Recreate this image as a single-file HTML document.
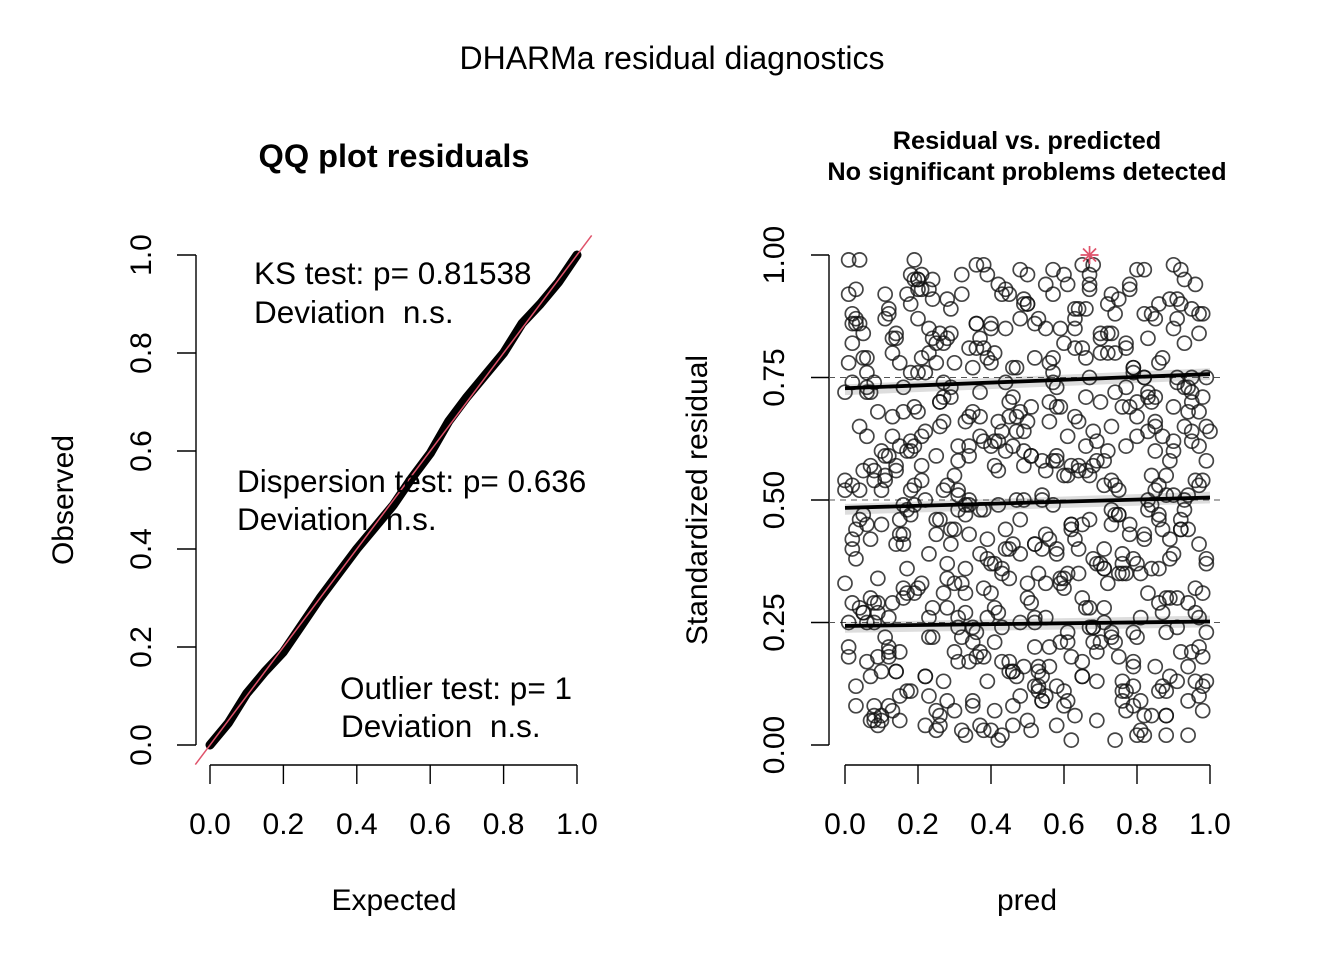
<!DOCTYPE html>
<html><head><meta charset="utf-8"><style>
html,body{margin:0;padding:0;background:#fff}
svg{display:block;font-family:"Liberation Sans",Arial,sans-serif}
text{white-space:pre}
</style></head><body>
<svg id="chart" width="1344" height="960" viewBox="0 0 1344 960" xmlns="http://www.w3.org/2000/svg">
<rect width="1344" height="960" fill="#fff"/>
<text x="672" y="69" font-size="32" text-anchor="middle">DHARMa residual diagnostics</text>
<text x="394" y="167" font-size="32.5" font-weight="bold" text-anchor="middle">QQ plot residuals</text>
<text x="1027" y="149" font-size="25.3" font-weight="bold" text-anchor="middle">Residual vs. predicted</text>
<text x="1027" y="180" font-size="25.3" font-weight="bold" text-anchor="middle">No significant problems detected</text>
<g id="qq"></g>
<g id="rp"></g>
</svg>
<script>
const NS="http://www.w3.org/2000/svg";
const ticks=[0,0.2,0.4,0.6,0.8,1.0];
const tickLabels=["0.0","0.2","0.4","0.6","0.8","1.0"];
const rTicks=[0,0.25,0.5,0.75,1.0];
const rTickLabels=["0.00","0.25","0.50","0.75","1.00"];
const qqExpected=[0,0.05,0.1,0.15,0.2,0.25,0.3,0.35,0.4,0.45,0.5,0.55,0.6,0.65,0.7,0.75,0.8,0.85,0.9,0.95,1];
const qqObserved=[0,0.045,0.105,0.15,0.19,0.245,0.3,0.35,0.4,0.445,0.49,0.545,0.595,0.66,0.71,0.755,0.8,0.86,0.9,0.945,1];
const quantLevels=[0.25,0.5,0.75];
const quantStart=[0.243,0.484,0.728];
const quantEnd=[0.252,0.505,0.757];
const outlierX=[0.67];
const outlierY=[1.0];
const predX=[
0.01,0.03,0.06,0.09,0.12,0.15,0.18,0.21,0.24,0.27,0.30,0.33,0.36,0.39,0.42,0.45,0.48,0.51,0.54,0.57,
0.60,0.63,0.66,0.69,0.72,0.75,0.78,0.81,0.84,0.87,0.90,0.93,0.96,0.99,0.02,0.05,0.08,0.11,0.14,0.17,
0.20,0.23,0.26,0.29,0.32,0.35,0.38,0.41,0.44,0.47,0.50,0.53,0.56,0.59,0.62,0.65,0.68,0.71,0.74,0.77,
0.80,0.83,0.86,0.89,0.92,0.95,0.98,0.00,0.04,0.07,0.10,0.13,0.16,0.19,0.22,0.25,0.28,0.31,0.34,0.37,
0.40,0.43,0.46,0.49,0.52,0.55,0.58,0.61,0.64,0.67,0.70,0.73,0.76,0.79,0.82,0.85,0.88,0.91,0.94,0.97,
0.02,0.06,0.09,0.13,0.17,0.20,0.24,0.28,0.31,0.35,0.39,0.43,0.46,0.50,0.54,0.58,0.61,0.65,0.69,0.73,
0.76,0.80,0.84,0.87,0.91,0.95,0.99,0.01,0.05,0.08,0.12,0.16,0.19,0.23,0.27,0.30,0.34,0.38,0.42,0.45,
0.49,0.53,0.57,0.60,0.64,0.68,0.72,0.75,0.79,0.83,0.86,0.90,0.94,0.98,0.03,0.07,0.11,0.14,0.18,0.22,
0.26,0.29,0.33,0.37,0.41,0.44,0.48,0.52,0.56,0.59,0.63,0.67,0.71,0.74,0.78,0.82,0.85,0.89,0.93,0.97,
0.00,0.04,0.08,0.12,0.15,0.19,0.23,0.27,0.31,0.35,0.38,0.42,0.46,0.50,0.54,0.57,0.61,0.65,0.69,0.73,
0.77,0.80,0.84,0.88,0.92,0.96,1.00,0.02,0.06,0.10,0.14,0.18,0.21,0.25,0.29,0.33,0.37,0.40,0.44,0.48,
0.52,0.56,0.60,0.63,0.67,0.71,0.75,0.79,0.82,0.86,0.90,0.94,0.98,0.01,0.04,0.07,0.10,0.13,0.16,0.19,
0.22,0.25,0.28,0.31,0.34,0.37,0.40,0.43,0.46,0.49,0.52,0.55,0.58,0.61,0.64,0.67,0.70,0.73,0.76,0.79,
0.82,0.85,0.88,0.91,0.94,0.97,0.03,0.08,0.13,0.18,0.23,0.28,0.33,0.38,0.43,0.48,0.53,0.58,0.63,0.68,
0.73,0.78,0.83,0.88,0.93,0.98,0.05,0.10,0.15,0.20,0.25,0.30,0.35,0.40,0.45,0.50,0.55,0.60,0.65,0.70,
0.75,0.80,0.85,0.90,0.95,0.99,0.02,0.07,0.12,0.17,0.22,0.27,0.32,0.37,0.42,0.47,0.52,0.57,0.62,0.66,
0.72,0.77,0.81,0.87,0.92,0.97,0.01,0.06,0.11,0.16,0.21,0.26,0.31,0.36,0.41,0.46,0.51,0.56,0.61,0.67,
0.71,0.76,0.82,0.86,0.91,0.96,0.04,0.09,0.14,0.19,0.24,0.29,0.34,0.39,0.44,0.49,0.54,0.59,0.64,0.69,
0.74,0.79,0.84,0.89,0.94,0.99,0.03,0.12,0.21,0.32,0.41,0.53,0.62,0.74,0.83,0.95,0.08,0.18,0.27,0.36,
0.47,0.58,0.68,0.79,0.88,0.97,0.02,0.15,0.26,0.38,0.45,0.55,0.66,0.77,0.86,0.93,0.06,0.20,0.34,0.50
];
const resid=[
0.99,0.12,0.63,0.34,0.88,0.05,0.47,0.93,0.22,0.71,0.55,0.02,0.81,0.38,0.66,0.15,0.97,0.29,0.51,0.76,
0.08,0.42,0.89,0.19,0.60,0.35,0.94,0.03,0.70,0.27,0.85,0.48,0.13,0.58,0.40,0.79,0.25,0.92,0.57,0.31,
0.68,0.10,0.84,0.44,0.96,0.21,0.62,0.07,0.74,0.50,0.33,0.87,0.16,0.69,0.45,0.98,0.24,0.53,0.01,0.82,
0.37,0.64,0.11,0.91,0.46,0.72,0.18,0.54,0.86,0.30,0.06,0.67,0.41,0.95,0.14,0.59,0.83,0.26,0.49,0.04,
0.78,0.36,0.61,0.90,0.20,0.43,0.73,0.09,0.56,0.28,0.80,0.65,0.39,0.17,0.97,0.52,0.23,0.75,0.02,0.61,
0.74,0.45,0.18,0.83,0.60,0.32,0.91,0.09,0.52,0.77,0.26,0.64,0.41,0.96,0.14,0.58,0.35,0.81,0.05,0.48,
0.69,0.22,0.88,0.44,0.13,0.62,0.37,0.92,0.27,0.56,0.08,0.73,0.49,0.85,0.31,0.19,0.67,0.03,0.94,0.40,
0.57,0.11,0.79,0.34,0.66,0.24,0.90,0.47,0.16,0.71,0.53,0.98,0.29,0.07,0.86,0.42,0.59,0.15,0.76,0.50,
0.04,0.84,0.36,0.63,0.21,0.93,0.46,0.12,0.70,0.33,0.87,0.55,0.25,0.80,0.43,0.06,0.65,0.38,0.95,0.20,
0.72,0.28,0.54,0.89,0.10,0.61,0.39,0.82,0.17,0.68,0.48,0.01,0.77,0.30,0.58,0.92,0.23,0.45,0.13,0.84,
0.35,0.70,0.06,0.51,0.97,0.27,0.64,0.42,0.79,0.15,0.56,0.90,0.33,0.03,0.73,0.47,0.19,0.86,0.60,0.25,
0.41,0.78,0.11,0.67,0.94,0.36,0.52,0.08,0.75,0.29,0.62,0.44,0.88,0.18,0.99,0.57,0.05,0.80,0.32,0.69,
0.14,0.46,0.91,0.24,0.59,0.83,0.37,0.02,0.71,0.50,0.26,0.85,0.12,0.63,0.40,0.96,0.21,0.54,0.09,0.76,
0.43,0.66,0.30,0.87,0.16,0.53,0.38,0.74,0.07,0.60,0.93,0.28,0.49,0.81,0.17,0.68,0.35,0.04,0.89,0.57,
0.22,0.45,0.72,0.11,0.65,0.31,0.84,0.52,0.19,0.95,0.43,0.78,0.08,0.61,0.34,0.90,0.26,0.55,0.14,0.70,
0.47,0.02,0.87,0.39,0.64,0.23,0.82,0.05,0.59,0.36,0.76,0.13,0.92,0.48,0.27,0.67,0.41,0.97,0.18,0.56,
0.33,0.81,0.09,0.63,0.44,0.88,0.20,0.73,0.54,0.30,0.79,0.06,0.51,0.86,0.37,0.15,0.69,0.42,0.94,0.24,
0.58,0.11,0.75,0.46,0.91,0.32,0.65,0.04,0.83,0.53,0.28,0.71,0.17,0.96,0.40,0.60,0.09,0.85,0.35,0.62,
0.21,0.77,0.49,0.14,0.68,0.38,0.93,0.26,0.57,0.03,0.80,0.16,0.44,0.72,0.31,0.89,0.06,0.52,0.74,0.23,
0.64,0.39,0.98,0.12,0.55,0.84,0.29,0.46,0.70,0.18,0.92,0.33,0.61,0.07,0.78,0.50,0.25,0.87,0.43,0.66
];
const predX2=[
0.04,0.11,0.19,0.27,0.35,0.44,0.52,0.61,0.69,0.78,0.86,0.95,0.07,0.16,0.24,0.33,0.41,0.50,0.58,0.67,
0.75,0.84,0.92,0.00,0.09,0.17,0.26,0.34,0.43,0.51,0.60,0.68,0.77,0.85,0.94,0.02,0.13,0.22,0.30,0.39,
0.47,0.56,0.64,0.73,0.81,0.90,0.98,0.05,0.14,0.23,0.31,0.40,0.48,0.57,0.65,0.74,0.82,0.91,0.99,0.08,
0.15,0.25,0.32,0.42,0.49,0.59,0.66,0.76,0.83,0.93,0.01,0.10,0.20,0.28,0.37,0.46,0.54,0.63,0.71,0.80,
0.88,0.97,0.06,0.12,0.21,0.29,0.38,0.45,0.55,0.62,0.72,0.79,0.89,0.96,0.03,0.18,0.36,0.53,0.70,0.87,
0.05,0.13,0.22,0.31,0.40,0.49,0.58,0.67,0.76,0.85,0.94,0.02,0.11,0.20,0.29,0.38,0.47,0.56,0.65,0.74,
0.83,0.92,0.07,0.16,0.25,0.34,0.43,0.52,0.61,0.70,0.79,0.88,0.97,0.04,0.14,0.23,0.32,0.41,0.50,0.59,
0.68,0.77,0.86,0.95,0.09,0.18,0.27,0.36,0.45,0.54,0.63,0.72,0.81,0.90,0.99,0.01,0.10,0.19,0.28,0.37,
0.46,0.55,0.64,0.73,0.82,0.91,0.06,0.15,0.24,0.33,0.42,0.51,0.60,0.69,0.78,0.87,0.96,0.03,0.12,0.21,
0.30,0.39,0.48,0.57,0.66,0.75,0.84,0.93,0.08,0.17,0.26,0.35,0.44,0.53,0.62,0.71,0.80,0.89,0.98,0.00,
0.12,0.25,0.37,0.49,0.62,0.74,0.86,0.97,0.06,0.18,0.31,0.43,0.55,0.68,0.80,0.92,0.03,0.15,0.28,0.40,
0.52,0.65,0.77,0.89,0.99,0.09,0.21,0.34,0.46,0.58,0.71,0.83,0.95,0.05,0.17,0.30,0.42,0.54,0.67,0.79,
0.91,0.02,0.14,0.26,0.39,0.51,0.63,0.76,0.88,0.98,0.08,0.20,0.33,0.45,0.57,0.70,0.82,0.94,0.11,0.36,
0.60,0.85,0.23,0.48,0.73,0.97,0.16,0.41,0.66,0.90
];
const resid2=[
0.52,0.87,0.31,0.66,0.09,0.44,0.79,0.21,0.58,0.93,0.36,0.70,0.14,0.49,0.83,0.27,0.62,0.05,0.40,0.75,
0.18,0.55,0.90,0.33,0.68,0.11,0.46,0.81,0.24,0.59,0.96,0.38,0.73,0.16,0.51,0.86,0.29,0.64,0.07,0.42,
0.77,0.20,0.57,0.92,0.35,0.69,0.12,0.47,0.84,0.26,0.61,0.03,0.39,0.74,0.17,0.53,0.88,0.30,0.65,0.08,
0.43,0.78,0.22,0.56,0.91,0.34,0.71,0.13,0.48,0.82,0.25,0.60,0.95,0.37,0.72,0.15,0.50,0.85,0.28,0.63,
0.06,0.41,0.76,0.19,0.54,0.89,0.32,0.67,0.10,0.45,0.80,0.23,0.58,0.94,0.44,0.62,0.86,0.12,0.37,0.79,
0.27,0.63,0.04,0.48,0.85,0.16,0.59,0.93,0.35,0.71,0.09,0.53,0.22,0.76,0.41,0.98,0.14,0.66,0.30,0.88,
0.50,0.19,0.72,0.43,0.07,0.61,0.92,0.25,0.55,0.83,0.38,0.02,0.68,0.46,0.15,0.80,0.33,0.57,0.90,0.21,
0.64,0.11,0.47,0.75,0.29,0.96,0.52,0.18,0.70,0.40,0.06,0.84,0.26,0.60,0.13,0.78,0.45,0.99,0.34,0.67,
0.08,0.56,0.89,0.23,0.42,0.74,0.17,0.61,0.95,0.31,0.49,0.03,0.82,0.37,0.69,0.12,0.54,0.87,0.20,0.63,
0.44,0.79,0.10,0.58,0.28,0.91,0.36,0.73,0.05,0.48,0.65,0.24,0.85,0.15,0.57,0.40,0.97,0.30,0.71,0.52,
0.18,0.82,0.39,0.64,0.01,0.47,0.90,0.26,0.72,0.11,0.58,0.35,0.94,0.21,0.67,0.44,0.08,0.78,0.53,0.31,
0.86,0.14,0.61,0.42,0.75,0.27,0.96,0.50,0.04,0.69,0.36,0.83,0.19,0.56,0.92,0.33,0.62,0.09,0.46,0.77,
0.24,0.88,0.41,0.70,0.13,0.59,0.81,0.37,0.06,0.54,0.29,0.93,0.66,0.17,0.49,0.84,0.02,0.73,0.55,0.98,
0.32,0.60,0.22,0.87,0.45,0.10,0.68,0.28,0.79,0.51
];
function el(tag,attrs,parent){const e=document.createElementNS(NS,tag);for(const k in attrs)e.setAttribute(k,attrs[k]);parent.appendChild(e);return e;}
const FS=30;
const qx=v=>210+v*367, qy=v=>745-v*490;
const qq=document.getElementById('qq');
let a=el('line',{x1:196,y1:qy(0),x2:196,y2:qy(1),stroke:'#000','stroke-width':1.4},qq);

a=el('line',{x1:qx(0),y1:765,x2:qx(1),y2:765,stroke:'#000','stroke-width':1.4},qq);

ticks.forEach((t,i)=>{
 let l=el('line',{x1:177,y1:qy(t),x2:196,y2:qy(t),stroke:'#000','stroke-width':1.4},qq);
 
 let tx=el('text',{x:0,y:0,'font-size':FS,'text-anchor':'middle',transform:`translate(151,${qy(t)}) rotate(-90)`},qq);tx.textContent=tickLabels[i];
 
 l=el('line',{x1:qx(t),y1:765,x2:qx(t),y2:784,stroke:'#000','stroke-width':1.4},qq);
 
 tx=el('text',{x:qx(t),y:834,'font-size':FS,'text-anchor':'middle'},qq);tx.textContent=tickLabels[i];
 
});
let t=el('text',{x:0,y:0,'font-size':FS,'text-anchor':'middle',transform:'translate(73,500) rotate(-90)'},qq);t.textContent='Observed';

t=el('text',{x:394,y:910,'font-size':FS,'text-anchor':'middle'},qq);t.textContent='Expected';

let pts=qqExpected.map((e,i)=>qx(e)+','+qy(qqObserved[i])).join(' ');
let pl=el('polyline',{points:pts,fill:'none',stroke:'#000','stroke-width':9,'stroke-linejoin':'round','stroke-linecap':'round'},qq);

let rl=el('line',{x1:qx(-0.04),y1:qy(-0.04),x2:qx(1.04),y2:qy(1.04),stroke:'#DF536B','stroke-width':1.5},qq);

const txt=[["KS test: p= 0.81538",254,284,'ks-test-label'],["Deviation  n.s.",254,323,'ks-deviation-label'],["Dispersion test: p= 0.636",237,492,'dispersion-test-label'],["Deviation  n.s.",237,530,'dispersion-deviation-label'],["Outlier test: p= 1",340,699,'outlier-test-label'],["Deviation  n.s.",341,737,'outlier-deviation-label']];
txt.forEach(d=>{const e=el('text',{x:d[1],y:d[2],'font-size':31.5},qq);e.textContent=d[0];
 });
const rx=v=>845+v*365, ry=v=>745-v*490;
const rp=document.getElementById('rp');
a=el('line',{x1:829,y1:ry(0),x2:829,y2:ry(1),stroke:'#000','stroke-width':1.4},rp);

a=el('line',{x1:rx(0),y1:765,x2:rx(1),y2:765,stroke:'#000','stroke-width':1.4},rp);

rTicks.forEach((v,i)=>{
 let l=el('line',{x1:811,y1:ry(v),x2:829,y2:ry(v),stroke:'#000','stroke-width':1.4},rp);
 
 let tx=el('text',{x:0,y:0,'font-size':FS,'text-anchor':'middle',transform:`translate(784,${ry(v)}) rotate(-90)`},rp);tx.textContent=rTickLabels[i];
 
});
ticks.forEach((v,i)=>{
 let l=el('line',{x1:rx(v),y1:765,x2:rx(v),y2:784,stroke:'#000','stroke-width':1.4},rp);
 
 let tx=el('text',{x:rx(v),y:834,'font-size':FS,'text-anchor':'middle'},rp);tx.textContent=tickLabels[i];
 
});
t=el('text',{x:0,y:0,'font-size':FS,'text-anchor':'middle',transform:'translate(707,500) rotate(-90)'},rp);t.textContent='Standardized residual';

t=el('text',{x:1027,y:910,'font-size':FS,'text-anchor':'middle'},rp);t.textContent='pred';

quantLevels.forEach((q,i)=>{
 let b=el('polygon',{points:`${rx(0)},${ry(quantStart[i]+0.008)} ${rx(1)},${ry(quantEnd[i]+0.012)} ${rx(1)},${ry(quantEnd[i]-0.012)} ${rx(0)},${ry(quantStart[i]-0.014)}`,fill:'#ddd'},rp);
 
});
quantLevels.forEach(q=>{
 let d=el('line',{x1:829,y1:ry(q),x2:1222,y2:ry(q),stroke:'#555','stroke-width':1,'stroke-dasharray':'6,5'},rp);
 
});
function drawPts(xs,ys){
 xs.forEach((x,i)=>{
  const c=el('circle',{cx:rx(x),cy:ry(ys[i]),r:7,fill:'none',stroke:'#111','stroke-opacity':0.78,'stroke-width':1.7},rp);
  
  
 });
}
drawPts(predX,resid);
drawPts(predX2,resid2);
quantLevels.forEach((q,i)=>{
 let l=el('line',{x1:rx(0),y1:ry(quantStart[i]),x2:rx(1),y2:ry(quantEnd[i]),stroke:'#000','stroke-width':3.8},rp);
 
});
outlierX.forEach((x,i)=>{
 const cx=rx(x),cy=ry(outlierY[i]);
 const g=el('g',{stroke:'#DF536B','stroke-width':1.7},rp);
 
 
 el('line',{x1:cx-9,y1:cy,x2:cx+9,y2:cy},g);el('line',{x1:cx,y1:cy-9,x2:cx,y2:cy+9},g);
 el('line',{x1:cx-6.5,y1:cy-6.5,x2:cx+6.5,y2:cy+6.5},g);el('line',{x1:cx-6.5,y1:cy+6.5,x2:cx+6.5,y2:cy-6.5},g);
});
</script>
</body></html>
